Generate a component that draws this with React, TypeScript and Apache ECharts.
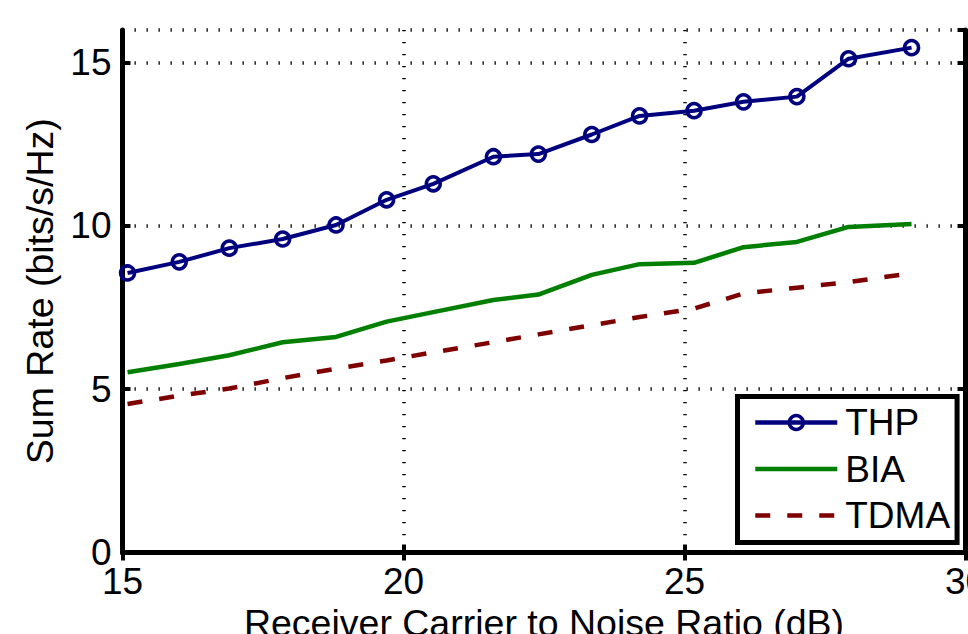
import React, { useEffect, useRef } from "react";
import * as echarts from "echarts";

const xValues = [15.09, 16.01, 16.9, 17.85, 18.8, 19.7, 20.53, 21.6, 22.4, 23.35, 24.2, 25.17, 26.05, 27.0, 27.92, 29.04];
const thp = [8.56, 8.9, 9.32, 9.6, 10.03, 10.8, 11.29, 12.12, 12.2, 12.8, 13.37, 13.53, 13.8, 13.96, 15.12, 15.46];
const bia = [5.52, 5.77, 6.04, 6.44, 6.6, 7.07, 7.36, 7.73, 7.9, 8.5, 8.83, 8.87, 9.35, 9.51, 9.97, 10.06];
const tdma = [4.55, 4.8, 5.02, 5.34, 5.63, 5.88, 6.13, 6.44, 6.68, 6.96, 7.21, 7.47, 7.93, 8.11, 8.28, 8.55];
const seriesNames = ["THP", "BIA", "TDMA"];
const xTitle = "Receiver Carrier to Noise Ratio (dB)";
const yTitle = "Sum Rate (bits/s/Hz)";

const FONT = "'Liberation Sans', Arial, Helvetica, sans-serif";
const NAVY = "#00007F";
const GREEN = "#007F00";
const MAROON = "#7F0000";

const pairs = (ys: number[]) => xValues.map((x, i) => [x, ys[i]]);

export default function App() {
  const ref = useRef<HTMLDivElement>(null);
  useEffect(() => {
    if (!ref.current) return;
    const chart = echarts.init(ref.current, undefined, { renderer: "svg" });
    const axisLine = { show: true, lineStyle: { color: "#000", width: 5 } };
    const axisTick = { show: true, inside: true, length: 8, lineStyle: { color: "#000", width: 4 } };
    const split = { show: true, lineStyle: { color: "#000", width: 3.5, type: [1.3, 10.7] as any } };
    chart.setOption({
      animation: false,
      backgroundColor: "#fff",
      textStyle: { fontFamily: FONT },
      grid: { left: 122.5, right: 2.5, top: 30, bottom: 81.5, containLabel: false, outerBoundsMode: "none" },
      xAxis: [
        {
          type: "value", min: 15, max: 30, interval: 5, position: "bottom",
          axisLine, axisTick, splitLine: split,
          axisLabel: { color: "#000", fontSize: 37, fontFamily: FONT, margin: 10 },
          name: xTitle, nameLocation: "middle", nameGap: 50,
          nameTextStyle: { color: "#000", fontSize: 37.5, fontFamily: FONT },
        },
        {
          type: "value", min: 15, max: 30, interval: 5, position: "top",
          axisLine, axisTick, splitLine: { show: false }, axisLabel: { show: false },
        },
      ],
      yAxis: [
        {
          type: "value", min: 0, max: 16, interval: 5, position: "left",
          axisLine, axisTick, splitLine: split,
          axisLabel: { color: "#000", fontSize: 37, fontFamily: FONT, margin: 11, showMaxLabel: false },
          name: yTitle, nameLocation: "middle", nameGap: 62,
          nameTextStyle: { color: "#000", fontSize: 37.5, fontFamily: FONT },
        },
        {
          type: "value", min: 0, max: 16, interval: 5, position: "right",
          axisLine, axisTick, splitLine: { show: false }, axisLabel: { show: false },
        },
      ],
      legend: {
        orient: "vertical",
        left: 737.5,
        top: 396.5,
        padding: [7.5, 7, 8.5, 15.5],
        itemWidth: 82,
        itemHeight: 17.5,
        itemGap: 9.5,
        borderColor: "#000",
        borderWidth: 5,
        backgroundColor: "#fff",
        lineStyle: { width: 4.5 },
        textStyle: { color: "#000", fontSize: 37, fontFamily: FONT, lineHeight: 36, padding: [0, 0, 0, 3] },
        data: [
          { name: seriesNames[0], itemStyle: { color: "transparent", borderColor: NAVY, borderWidth: 3.5 } },
          { name: seriesNames[1], itemStyle: { opacity: 0 } },
          { name: seriesNames[2], itemStyle: { opacity: 0 } },
        ],
      },
      series: [
        {
          name: seriesNames[0], type: "line", data: pairs(thp),
          symbol: "circle", symbolSize: 14,
          lineStyle: { color: NAVY, width: 4 },
          itemStyle: { color: "transparent", borderColor: NAVY, borderWidth: 3.5 },
          z: 5,
        },
        {
          name: seriesNames[1], type: "line", data: pairs(bia), symbol: "none",
          lineStyle: { color: GREEN, width: 4.5 },
          itemStyle: { color: GREEN },
        },
        {
          name: seriesNames[2], type: "line", data: pairs(tdma), symbol: "none",
          lineStyle: { color: MAROON, width: 4.5, type: [15, 17] as any },
          itemStyle: { color: MAROON },
        },
      ],
    });
    return () => chart.dispose();
  }, []);
  return <div ref={ref} style={{ position: "absolute", left: 0, top: 0, width: 968, height: 634 }} />;
}
